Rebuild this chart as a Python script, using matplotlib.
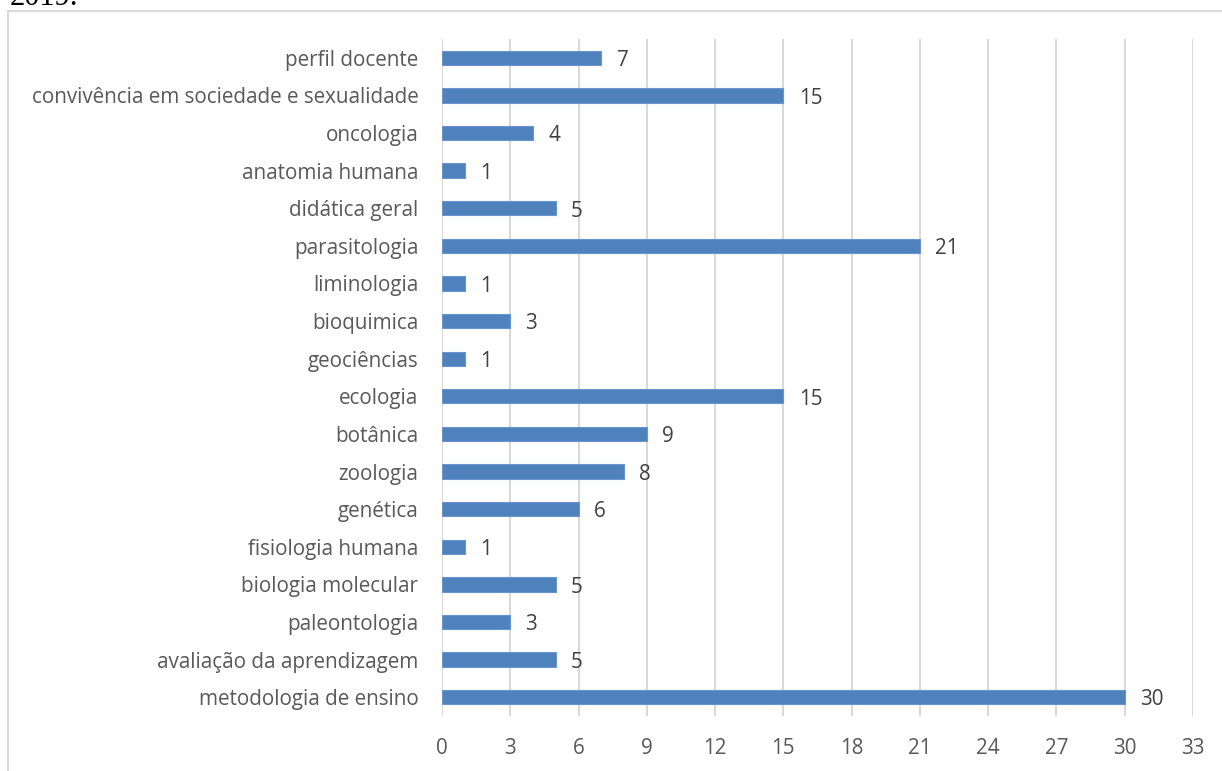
import matplotlib.pyplot as plt
from matplotlib.patches import Rectangle

# categorias (de baixo para cima, como no gráfico)
categorias = [
    'metodologia de ensino', 'avaliação da aprendizagem', 'paleontologia',
    'biologia molecular', 'fisiologia humana', 'genética', 'zoologia',
    'botânica', 'ecologia', 'geociências', 'bioquimica', 'liminologia',
    'parasitologia', 'didática geral', 'anatomia humana', 'oncologia',
    'convivência em sociedade e sexualidade', 'perfil docente',
]
valores = [30, 5, 3, 5, 1, 6, 8, 9, 15, 1, 3, 1, 21, 5, 1, 4, 15, 7]
ticks_x = [0, 3, 6, 9, 12, 15, 18, 21, 24, 27, 30, 33]

cor_barra = '#4F81BD'
cor_texto = '#595959'
cor_grade = '#D9D9D9'
fonte = ['Open Sans', 'DejaVu Sans']
tam = 14.9

fig = plt.figure(figsize=(12.22, 7.71), dpi=100)

# moldura do gráfico
fig.patches.append(Rectangle((8 / 1222, -0.05), 1.2, (771 - 11) / 771 + 0.05,
                             transform=fig.transFigure, fill=False,
                             edgecolor=cor_grade, linewidth=1.5))

# texto cortado no topo
fig.text(10 / 1222, 1 - 5 / 771, '2019.', family='Liberation Serif', fontsize=22,
         color='black', va='baseline', ha='left')

ax = fig.add_axes([442 / 1222, 55 / 771, (1193 - 442) / 1222, 677 / 771])
y = range(len(categorias))
ax.barh(y, valores, height=0.38, color=cor_barra, edgecolor='#6A95CC',
        linewidth=0.8, zorder=3)

ax.set_xlim(0, 33)
ax.set_ylim(-0.5, len(categorias) - 0.5)
ax.set_xticks(ticks_x)
ax.set_xticklabels([str(t) for t in ticks_x], family=fonte, fontsize=tam,
                   color=cor_texto)
ax.set_yticks(list(y))
ax.set_yticklabels(categorias, family=fonte, fontsize=tam, color=cor_texto)
ax.tick_params(axis='both', length=0)
ax.tick_params(axis='x', pad=16)
ax.tick_params(axis='y', pad=17)
ax.grid(axis='x', color=cor_grade, linewidth=1.5, zorder=0)
for s in ax.spines.values():
    s.set_visible(False)

for i, v in enumerate(valores):
    ax.annotate(str(v), (v, i), xytext=(11, -2), textcoords='offset points',
                ha='left', va='center', family=fonte, fontsize=tam,
                color='#404040')

fig.savefig('out.png', dpi=100)
